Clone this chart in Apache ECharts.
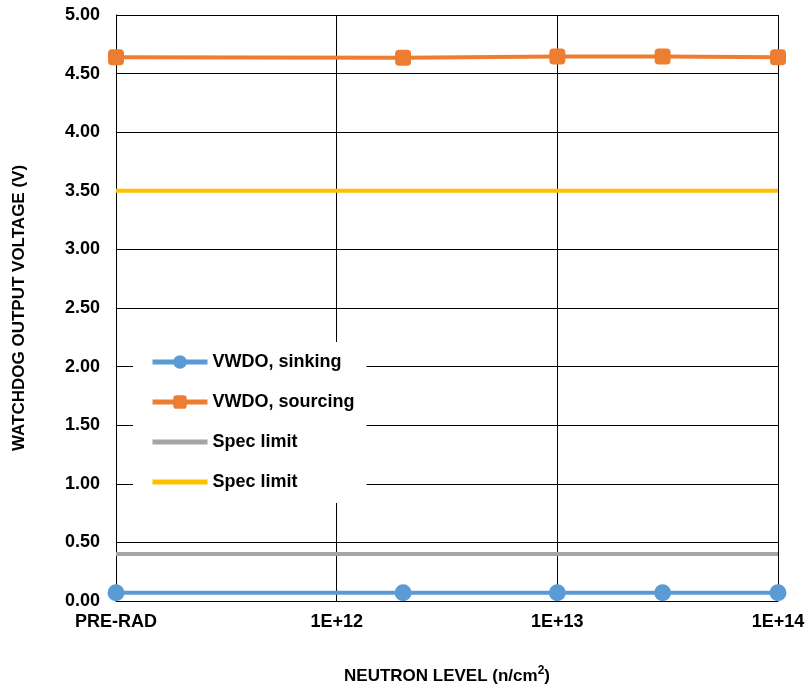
<!DOCTYPE html>
<html><head><meta charset="utf-8">
<script src="https://cdn.jsdelivr.net/npm/echarts@6/dist/echarts.min.js"></script>
<style>html,body{margin:0;padding:0;background:#fff}#c{width:806px;height:687px}</style>
</head><body><div id="c"></div>
<script>
const xLevels = [1e11, 2e12, 1e13, 3e13, 1e14];
const sinking = [0.07, 0.07, 0.07, 0.07, 0.07];
const sourcing = [4.64, 4.635, 4.645, 4.645, 4.64];
const specX = [1e11, 1e14];
const specLow = [0.4, 0.4];
const specHigh = [3.5, 3.5];
const seriesNames = ['VWDO, sinking', 'VWDO, sourcing', 'Spec limit', 'Spec limit\u200B'];
const xTickLabels = {1e11: 'PRE-RAD', 1e12: '1E+12', 1e13: '1E+13', 1e14: '1E+14'};

const pair = (xs, ys) => xs.map((x, i) => [x, ys[i]]);
const font = 'Liberation Sans, Arial, sans-serif';
const chart = echarts.init(document.getElementById('c'));
chart.setOption({
  animation: false,
  grid: {left: 116, right: 28, top: 15, bottom: 86, outerBoundsMode: 'none', containLabel: false},
  xAxis: {
    type: 'log', logBase: 10, min: 1e11, max: 1e14,
    name: '{n|NEUTRON LEVEL (n/cm}{s|2}{n|)}',
    nameLocation: 'middle', nameGap: 64,
    nameTextStyle: {rich: {
      n: {fontFamily: font, fontWeight: 'bold', fontSize: 17, color: '#000', verticalAlign: 'bottom', lineHeight: 20},
      s: {fontFamily: font, fontWeight: 'bold', fontSize: 12, color: '#000', verticalAlign: 'top', lineHeight: 20, padding: [0,0,9,0]}
    }},
    axisLine: {show: true, lineStyle: {color: '#000', width: 1}},
    axisTick: {show: false},
    splitLine: {show: true, lineStyle: {color: '#000', width: 1}},
    minorSplitLine: {show: false},
    axisLabel: {fontFamily: font, fontWeight: 'bold', fontSize: 18, color: '#000', margin: 12,
      formatter: v => xTickLabels[v] || ''}
  },
  yAxis: {
    type: 'value', min: 0, max: 5, interval: 0.5,
    name: 'WATCHDOG OUTPUT VOLTAGE (V)', nameLocation: 'middle', nameGap: 88,
    nameTextStyle: {fontFamily: font, fontWeight: 'bold', fontSize: 17, color: '#000'},
    axisLine: {show: true, lineStyle: {color: '#000', width: 1}},
    axisTick: {show: false},
    splitLine: {show: true, lineStyle: {color: '#000', width: 1}},
    axisLabel: {fontFamily: font, fontWeight: 'bold', fontSize: 18, color: '#000', margin: 16,
      formatter: v => v.toFixed(2)}
  },
  legend: {
    orient: 'vertical', left: 133, top: 342,
    padding: [11, 12, 12, 17],
    backgroundColor: '#fff',
    itemWidth: 55, itemHeight: 17, itemGap: 22,
    textStyle: {fontFamily: font, fontWeight: 'bold', fontSize: 18, color: '#000', lineHeight: 17},
    data: [
      {name: seriesNames[0], lineStyle: {width: 5}},
      {name: seriesNames[1], lineStyle: {width: 5}},
      {name: seriesNames[2], lineStyle: {width: 5}, itemStyle: {color: 'rgba(0,0,0,0)', borderWidth: 0}},
      {name: seriesNames[3], lineStyle: {width: 5}, itemStyle: {color: 'rgba(0,0,0,0)', borderWidth: 0}}
    ]
  },
  series: [
    {name: seriesNames[2], type: 'line', data: pair(specX, specLow), symbol: 'none', clip: false,
     lineStyle: {color: '#A5A5A5', width: 4}, itemStyle: {color: '#A5A5A5'}, z: 2},
    {name: seriesNames[3], type: 'line', data: pair(specX, specHigh), symbol: 'none', clip: false,
     lineStyle: {color: '#FFC000', width: 4}, itemStyle: {color: '#FFC000'}, z: 2},
    {name: seriesNames[0], type: 'line', data: pair(xLevels, sinking), symbol: 'circle', symbolSize: 17, clip: false,
     lineStyle: {color: '#5B9BD5', width: 4}, itemStyle: {color: '#5B9BD5'}, z: 3},
    {name: seriesNames[1], type: 'line', data: pair(xLevels, sourcing), symbol: 'roundRect', symbolSize: 16, clip: false,
     lineStyle: {color: '#ED7D31', width: 4}, itemStyle: {color: '#ED7D31'}, z: 3}
  ]
});
</script></body></html>
